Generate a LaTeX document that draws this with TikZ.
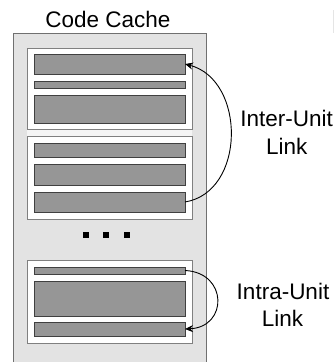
\documentclass[tikz,border=0pt]{standalone}
\usepackage{fontspec}
\setmainfont{Liberation Sans}
\usetikzlibrary{arrows.meta}
\definecolor{cachefill}{HTML}{E3E3E3}
\definecolor{cacheline}{HTML}{707070}
\definecolor{unitline}{HTML}{808080}
\definecolor{barfill}{HTML}{969696}
\definecolor{barline}{HTML}{404040}
\definecolor{stripfill}{HTML}{F5F5F5}
\begin{document}
\begin{tikzpicture}[x=1pt,y=-1pt,
  unitbox/.style={draw=unitline,fill=white,line width=0.9pt,rectangle,minimum width=165pt,inner sep=0pt,outer sep=0pt},
  bar/.style={draw=barline,fill=barfill,line width=0.9pt,rectangle,minimum width=151pt,inner sep=0pt,outer sep=0pt},
  dotsq/.style={fill=black,rectangle,minimum width=6pt,minimum height=6pt,inner sep=0pt},
  lbl/.style={font=\fontsize{22.5}{26}\selectfont,anchor=base,inner sep=0pt},
  link/.style={-{Stealth[length=8pt,width=7pt]},line width=0.9pt,black}]
\useasboundingbox (0,0) rectangle (336,362);
% outer cache region
\fill[cachefill] (13,33) rectangle (206,362);
\draw[cacheline,line width=1pt] (13,362) -- (13,33) -- (206,33) -- (206,362);
\fill[stripfill] (27,129) rectangle (192,136);
% faint mark top right
\draw[gray!20,line width=0.8pt] (333,10) -- (333,33);
% title
\node[lbl] (title) at (108,27.3) {Code Cache};
% unit 1
\node[unitbox,minimum height=81pt] (u1) at (109.5,88.5) {};
\node[bar,minimum height=20pt] (u1b1) at (109.5,64) {};
\node[bar,minimum height=7pt] (u1b2) at (109.5,84.5) {};
\node[bar,minimum height=28pt] (u1b3) at (109.5,109) {};
% unit 2
\node[unitbox,minimum height=83pt] (u2) at (109.5,177.5) {};
\node[bar,minimum height=14pt] (u2b1) at (109.5,150) {};
\node[bar,minimum height=21pt] (u2b2) at (109.5,174.5) {};
\node[bar,minimum height=20pt] (u2b3) at (109.5,202) {};
% dots
\node[dotsq] (d1) at (85.5,235) {};
\node[dotsq] (d2) at (106,235) {};
\node[dotsq] (d3) at (126.5,235) {};
% unit 3
\node[unitbox,minimum height=83pt] (u3) at (109.5,301.5) {};
\node[bar,minimum height=7pt] (u3b1) at (109.5,270.5) {};
\node[bar,minimum height=35pt] (u3b2) at (109.5,298.5) {};
\node[bar,minimum height=14pt] (u3b3) at (109.5,329) {};
% links
\draw[link] (u2b3.east) .. controls +(61,-10) and +(61,16) .. (u1b1.east);
\draw[link] (u3b1.east) .. controls +(43,2) and +(43,-2) .. (u3b3.east);
% labels
\node[lbl] (inter1) at (286.7,126.5) {Inter-Unit};
\node[lbl] (inter2) at (286.7,154) {Link};
\node[lbl] (intra1) at (283,299) {Intra-Unit};
\node[lbl] (intra2) at (282.5,326.5) {Link};
\end{tikzpicture}
\end{document}
